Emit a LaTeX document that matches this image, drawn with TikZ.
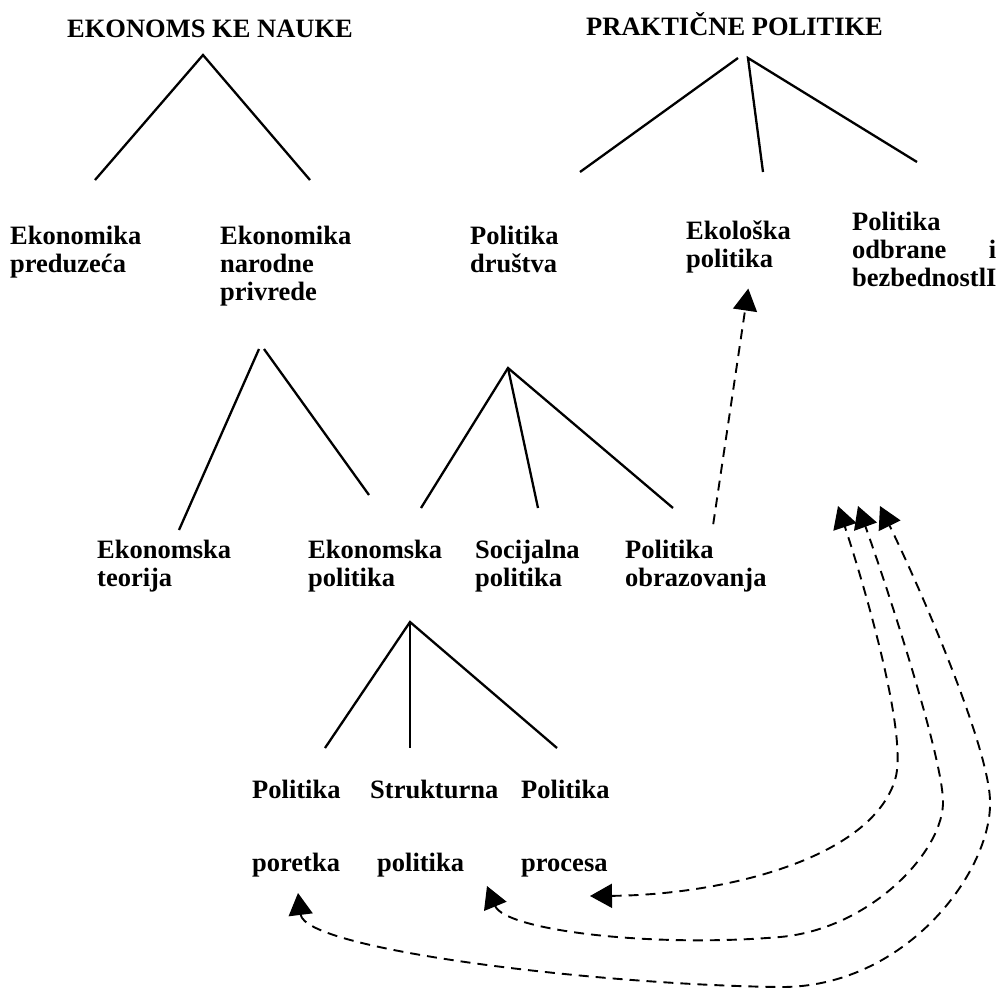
\documentclass[tikz,border=0pt]{standalone}
\usepackage{fontspec}
\setmainfont{Liberation Serif}
\usetikzlibrary{arrows.meta, positioning}

\begin{document}
\begin{tikzpicture}[x=1pt,y=-1pt,every node/.style={inner sep=0pt,anchor=north west,align=left,font=\bfseries\fontsize{26.5}{28}\selectfont},branch/.style={line width=2.3pt,black},link/.style={line width=1.9pt,dash pattern=on 10pt off 7pt,{Triangle[length=22pt,width=24pt]}-{Triangle[length=22pt,width=24pt]}},uplink/.style={line width=1.9pt,dash pattern=on 10pt off 7pt,-{Triangle[length=22pt,width=24pt]}}]
    \useasboundingbox (0,0) rectangle (1005,989);

    % headings
    \node (nauke) at (67,20) {EKONOMS KE NAUKE};
    \node (prakticne) at (586,12) {PRAKTIČNE POLITIKE};

    % second row
    \node (preduzeca) at (10,226) {Ekonomika\\preduzeća};
    \node (privrede) at (220,226) {Ekonomika\\narodne\\privrede};
    \node (drustva) at (470,226) {Politika\\društva};
    \node (ekoloska) at (686,221) {Ekološka\\politika};
    \node[text width=144pt] (odbrana) at (852,212) {Politika\\odbrane\hfill i\\bezbednostlI};

    % third row
    \node (teorija) at (97,540) {Ekonomska\\teorija};
    \node (ekpolitika) at (308,540) {Ekonomska\\politika};
    \node (socijalna) at (475,540) {Socijalna\\politika};
    \node (obrazovanja) at (625,540) {Politika\\obrazovanja};

    % fourth row
    \node (poretka) at (252,780) {Politika\\[45pt]poretka};
    \node (strukturna) at (370,780) {Strukturna\\[45pt]\hspace{7pt}politika};
    \node (procesa) at (521,780) {Politika\\[45pt]procesa};

    % branches
    \coordinate (en-top) at (203,55);
    \coordinate (en-l) at (95,180);
    \coordinate (en-r) at (310,180);
    \draw[branch] (en-l) -- (en-top) -- (en-r);

    \coordinate (pp-top1) at (738,58);
    \coordinate (pp-top2) at (748,58);
    \coordinate (pp-l) at (580,172);
    \coordinate (pp-m) at (763,172);
    \coordinate (pp-r) at (917,162);
    \draw[branch] (pp-l) -- (pp-top1);
    \draw[branch] (pp-m) -- (pp-top2) -- (pp-r);

    \coordinate (np-top1) at (259,349);
    \coordinate (np-top2) at (264,349);
    \coordinate (np-l) at (179,530);
    \coordinate (np-r) at (369,495);
    \draw[branch] (np-l) -- (np-top1);
    \draw[branch] (np-top2) -- (np-r);

    \coordinate (pd-top) at (508,368);
    \coordinate (pd-l) at (421,508);
    \coordinate (pd-m) at (538,508);
    \coordinate (pd-r) at (673,508);
    \draw[branch] (pd-l) -- (pd-top) -- (pd-r);
    \draw[branch] (pd-top) -- (pd-m);

    \coordinate (ep-top) at (410,622);
    \coordinate (ep-l) at (325,748);
    \coordinate (ep-m) at (410,748);
    \coordinate (ep-r) at (557,748);
    \draw[branch] (ep-l) -- (ep-top) -- (ep-r);
    \draw[branch] (ep-top) -- (ep-m);

    % dashed links
    \draw[uplink,shorten <=16pt,shorten >=15pt] ([xshift=15pt]obrazovanja.north) -- ([xshift=12pt]ekoloska.south);

    \coordinate (tip-a) at (838,506);
    \coordinate (tip-b) at (858,506);
    \coordinate (tip-c) at (880,506);
    \coordinate (end-a) at (590,896);
    \coordinate (end-b) at (487,886);
    \coordinate (end-c) at (298,893);
    \draw[link] (end-a) .. controls (720,895) and (870,860) .. (895,780) .. controls (910,732) and (856,560) .. (tip-a);
    \draw[link] (end-b) .. controls (505,930) and (650,948) .. (780,937) .. controls (871,929) and (945,850) .. (943,800) .. controls (941,750) and (883,575) .. (tip-b);
    \draw[link] (end-c) .. controls (305,950) and (600,985) .. (780,987) .. controls (906,988) and (993,870) .. (990,800) .. controls (988,745) and (922,592) .. (tip-c);
  \end{tikzpicture}
\end{document}
